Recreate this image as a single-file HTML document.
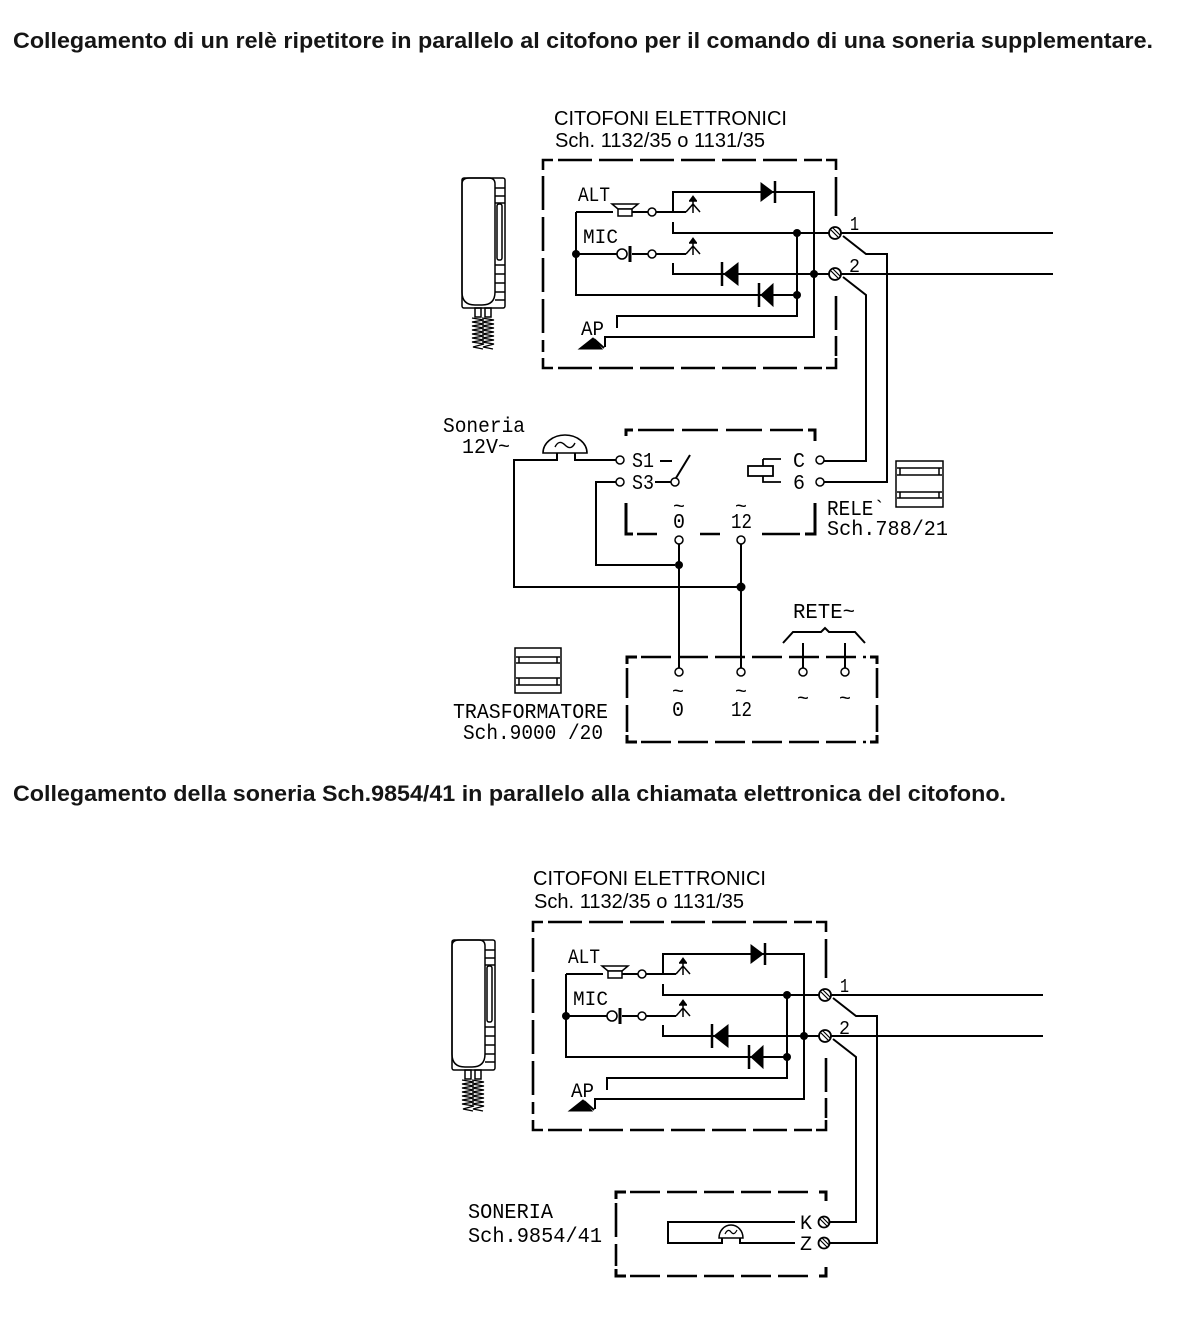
<!DOCTYPE html>
<html><head><meta charset="utf-8">
<style>
html,body{margin:0;padding:0;background:#fff;}
svg{display:block;}
.t{font-family:"Liberation Sans",Arial,sans-serif;}
.m{font-family:"Liberation Mono","DejaVu Sans Mono",monospace;}
</style></head><body>
<svg width="1186" height="1320" viewBox="0 0 1186 1320" xmlns="http://www.w3.org/2000/svg">
<rect width="1186" height="1320" fill="#fff"/>

<text class="t" x="13" y="48" font-size="22" font-weight="bold" fill="#151515" textLength="1140" lengthAdjust="spacingAndGlyphs">Collegamento di un relè ripetitore in parallelo al citofono per il comando di una soneria supplementare.</text>
<text class="t" x="13" y="801" font-size="22" font-weight="bold" fill="#151515" textLength="993" lengthAdjust="spacingAndGlyphs">Collegamento della soneria Sch.9854/41 in parallelo alla chiamata elettronica del citofono.</text>

<!-- ============ CITOFONO 1 ============ -->
<text class="t" x="554" y="125" font-size="20.5" fill="#000" textLength="233" lengthAdjust="spacingAndGlyphs">CITOFONI ELETTRONICI</text>
<text class="t" x="555" y="147" font-size="20.5" fill="#000" textLength="210" lengthAdjust="spacingAndGlyphs">Sch. 1132/35 o 1131/35</text>

<g id="cit1">
<g fill="none" stroke="#000">
  <g stroke-width="2.6">
    <path d="M543,170 V160 H553"/>
    <path d="M826,160 H836 V170"/>
    <path d="M543,358 V368 H553"/>
    <path d="M826,368 H836 V358"/>
    <path d="M558,160 H822" stroke-dasharray="34 7"/>
    <path d="M558,368 H822" stroke-dasharray="34 7"/>
    <path d="M543,176 V352" stroke-dasharray="34 7"/>
    <path d="M836,177 V216"/>
    <path d="M836,296 V330"/>
    <path d="M836,336 V356"/>
  </g>
  <g stroke-width="1.5">
    <rect x="462" y="178" width="43" height="130" rx="2"/>
    <path d="M469,178 H489 Q495,178 495,184 V292 Q495,305 482,305 H475 Q462,305 462,292 V184 Q462,178 469,178 Z"/>
    <path d="M495,188 H505 M495,196 H505 M495,203 H505 M495,265 H505 M495,274 H505 M495,283 H505 M495,292 H505 M495,300 H505"/>
    <rect x="497" y="204" width="5" height="56" rx="2"/>
    <rect x="475" y="308" width="6" height="9"/>
    <rect x="485" y="308" width="6" height="9"/>
  </g>
  <g stroke-width="1.3">
    <polyline points="472,318 484,320 472,322 484,324 472,326 484,328 472,330 484,332 472,334 484,336 472,338 484,340 472,342 484,344 473,347 483,349"/>
    <polyline points="482,318 494,320 482,322 494,324 482,326 494,328 482,330 494,332 482,334 494,336 482,338 494,340 482,342 494,344 483,347 493,349"/>
  </g>
  <g stroke-width="2">
    <path d="M576,212 H613"/>
    <path d="M632,212 H648"/>
    <path d="M656,212 H686"/>
    <path d="M673,212 V192 H814 V337 H605 V347"/>
    <path d="M673,222 V233 H829"/>
    <path d="M576,254 H617"/>
    <path d="M632,254 H648"/>
    <path d="M656,254 H686"/>
    <path d="M576,212 V295 H797"/>
    <path d="M673,263 V274 H829"/>
    <path d="M797,233 V316 H617 V328"/>
    <path d="M594,339 L604,348"/>
  </g>
  <path d="M612,204 H638 L632,209 H618 Z" stroke-width="1.5" fill="#fff"/>
  <rect x="618" y="209" width="14" height="7" stroke-width="1.5" fill="#fff"/>
  <circle cx="652" cy="212" r="4" stroke-width="1.5" fill="#fff"/>
  <circle cx="622" cy="254" r="5" stroke-width="1.6" fill="#fff"/>
  <path d="M630,246 V262" stroke-width="3"/>
  <circle cx="652" cy="254" r="4" stroke-width="1.5" fill="#fff"/>
  <g stroke-width="1.5">
    <path d="M686,212 L693,204 L700,212 M693,213 V199 M689,201 H697"/>
    <path d="M686,254 L693,246 L700,254 M693,255 V241 M689,243 H697"/>
  </g>
  <path d="M690,200 L693,196 L696,200 Z" fill="#000" stroke-width="1"/>
  <path d="M690,242 L693,238 L696,242 Z" fill="#000" stroke-width="1"/>
  <path d="M761,183 V201 L773,192 Z" fill="#000" stroke-width="1"/>
  <path d="M775,181 V203" stroke-width="2.5"/>
  <path d="M724,274 L738,263 V285 Z" fill="#000" stroke-width="1"/>
  <path d="M722,262 V286" stroke-width="2.5"/>
  <path d="M761,295 L773,284 V306 Z" fill="#000" stroke-width="1"/>
  <path d="M759,283 V307" stroke-width="2.5"/>
  <path d="M579,349 L593,338 L602,349 Z" fill="#000" stroke-width="1"/>
  <circle cx="835" cy="233" r="6" fill="#fff" stroke-width="1.8"/>
  <path d="M831,230 L838,237 M833,228 L840,235" stroke-width="1.2"/>
  <circle cx="835" cy="274" r="6" fill="#fff" stroke-width="1.8"/>
  <path d="M831,271 L838,278 M833,269 L840,276" stroke-width="1.2"/>
  <path d="M841,233 H1053 M841,274 H1053" stroke-width="2"/>
</g>
<g fill="#000">
  <circle cx="576" cy="254" r="4"/>
  <circle cx="797" cy="233" r="4"/>
  <circle cx="797" cy="295" r="4"/>
  <circle cx="814" cy="274" r="4"/>
</g>
<g class="m" fill="#000">
  <text x="578" y="201" font-size="20" textLength="32" lengthAdjust="spacingAndGlyphs">ALT</text>
  <text x="583" y="243" font-size="20" textLength="35" lengthAdjust="spacingAndGlyphs">MIC</text>
  <text x="581" y="335" font-size="20" textLength="23" lengthAdjust="spacingAndGlyphs">AP</text>
  <text x="850" y="230" font-size="19" textLength="9" lengthAdjust="spacingAndGlyphs">1</text>
  <text x="849" y="272" font-size="19" textLength="11" lengthAdjust="spacingAndGlyphs">2</text>
</g>
</g>

<g fill="none" stroke="#000" stroke-width="2">
  <path d="M843,236 L866,254 H887 V482 H824"/>
  <path d="M843,277 L866,295 V461 H824"/>
</g>

<!-- ============ RELAY ============ -->
<g fill="none" stroke="#000">
  <g stroke-width="3">
    <path d="M626,436 V430 H633"/>
    <path d="M808,430 H815 V441"/>
    <path d="M626,503 V534 H633"/>
    <path d="M815,503 V534 H805"/>
  </g>
  <g stroke-width="2.6">
    <path d="M638,430 H803" stroke-dasharray="36 8"/>
    <path d="M637,534 H657"/>
    <path d="M700,534 H720"/>
    <path d="M762,534 H800"/>
  </g>
  <g stroke-width="2">
    <path d="M616,460 H575 V453"/>
    <path d="M557,453 V460 H514 V587 H737"/>
    <path d="M616,482 H596 V565 H675"/>
    <path d="M679,544 V668"/>
    <path d="M741,544 V668"/>
    <path d="M660,461 H672"/>
    <path d="M676,478 L690,455"/>
    <path d="M655,482 H671"/>
  </g>
  <path d="M543,453 A22,18 0 0 1 587,453 Z" stroke-width="1.6" fill="#fff"/>
  <path d="M555,447 Q559,439 565,445 Q571,451 575,443" stroke-width="1.4"/>
  <g stroke-width="1.5" fill="#fff">
    <circle cx="620" cy="460" r="4"/>
    <circle cx="620" cy="482" r="4"/>
    <circle cx="675" cy="482" r="4"/>
    <circle cx="820" cy="460" r="4"/>
    <circle cx="820" cy="482" r="4"/>
    <circle cx="679" cy="540" r="4"/>
    <circle cx="741" cy="540" r="4"/>
  </g>
  <g stroke-width="1.8">
    <rect x="748" y="466" width="25" height="10" fill="#fff"/>
    <path d="M763,459 H781 M763,459 V466 M763,476 V482 H781"/>
  </g>
  <g stroke-width="1.5">
    <rect x="896" y="461" width="47" height="46"/>
    <path d="M897,468 H942 M897,475 H942 M897,492 H942 M897,498 H942 M900,468 V475 M939,468 V475 M900,492 V498 M939,492 V498"/>
  </g>
</g>
<g fill="#000">
  <circle cx="679" cy="565" r="4"/>
  <circle cx="741" cy="587" r="4.5"/>
</g>
<g class="m" fill="#000">
  <text x="443" y="432" font-size="21" textLength="82" lengthAdjust="spacingAndGlyphs">Soneria</text>
  <text x="462" y="453" font-size="21" textLength="48" lengthAdjust="spacingAndGlyphs">12V~</text>
  <text x="632" y="467" font-size="21" textLength="22" lengthAdjust="spacingAndGlyphs">S1</text>
  <text x="632" y="489" font-size="21" textLength="22" lengthAdjust="spacingAndGlyphs">S3</text>
  <text x="793" y="467" font-size="21" textLength="12" lengthAdjust="spacingAndGlyphs">C</text>
  <text x="793" y="489" font-size="21" textLength="12" lengthAdjust="spacingAndGlyphs">6</text>
  <text x="673" y="513" font-size="21" textLength="12" lengthAdjust="spacingAndGlyphs">~</text>
  <text x="673" y="528" font-size="21" textLength="12" lengthAdjust="spacingAndGlyphs">0</text>
  <text x="735" y="513" font-size="21" textLength="12" lengthAdjust="spacingAndGlyphs">~</text>
  <text x="731" y="528" font-size="21" textLength="21" lengthAdjust="spacingAndGlyphs">12</text>
  <text x="827" y="515" font-size="21" textLength="58" lengthAdjust="spacingAndGlyphs">RELE`</text>
  <text x="827" y="535" font-size="21" textLength="121" lengthAdjust="spacingAndGlyphs">Sch.788/21</text>
</g>

<!-- ============ TRANSFORMER ============ -->
<g fill="none" stroke="#000">
  <g stroke-width="3">
    <path d="M627,664 V657 H637"/>
    <path d="M627,735 V742 H637"/>
    <path d="M870,657 H877 V664"/>
    <path d="M870,742 H877 V735"/>
  </g>
  <g stroke-width="2.6" stroke-dasharray="30 7">
    <path d="M641,657 H866"/>
    <path d="M641,742 H866"/>
    <path d="M627,668 V732"/>
    <path d="M877,668 V732"/>
  </g>
  <g stroke-width="2">
    <path d="M803,643 V668 M845,643 V668"/>
    <path d="M783,643 L793,632 H821 L825,628 L829,632 H855 L865,643"/>
  </g>
  <g stroke-width="1.5" fill="#fff">
    <circle cx="679" cy="672" r="4"/>
    <circle cx="741" cy="672" r="4"/>
    <circle cx="803" cy="672" r="4"/>
    <circle cx="845" cy="672" r="4"/>
  </g>
  <g stroke-width="1.5">
    <rect x="515" y="648" width="46" height="45"/>
    <path d="M516,657 H560 M516,663 H560 M516,678 H560 M516,685 H560 M519,657 V663 M557,657 V663 M519,678 V685 M557,678 V685"/>
  </g>
</g>
<g class="m" fill="#000">
  <text x="793" y="618" font-size="21" textLength="62" lengthAdjust="spacingAndGlyphs">RETE~</text>
  <text x="672" y="698" font-size="21" textLength="12" lengthAdjust="spacingAndGlyphs">~</text>
  <text x="672" y="716" font-size="21" textLength="12" lengthAdjust="spacingAndGlyphs">0</text>
  <text x="735" y="698" font-size="21" textLength="12" lengthAdjust="spacingAndGlyphs">~</text>
  <text x="731" y="716" font-size="21" textLength="21" lengthAdjust="spacingAndGlyphs">12</text>
  <text x="797" y="705" font-size="21" textLength="12" lengthAdjust="spacingAndGlyphs">~</text>
  <text x="839" y="705" font-size="21" textLength="12" lengthAdjust="spacingAndGlyphs">~</text>
  <text x="453" y="718" font-size="21" textLength="155" lengthAdjust="spacingAndGlyphs">TRASFORMATORE</text>
  <text x="463" y="739" font-size="21" textLength="140" lengthAdjust="spacingAndGlyphs">Sch.9000 /20</text>
</g>

<!-- ============ CITOFONO 2 ============ -->
<text class="t" x="533" y="885" font-size="20.5" fill="#000" textLength="233" lengthAdjust="spacingAndGlyphs">CITOFONI ELETTRONICI</text>
<text class="t" x="534" y="908" font-size="20.5" fill="#000" textLength="210" lengthAdjust="spacingAndGlyphs">Sch. 1132/35 o 1131/35</text>

<g transform="translate(-10,762)">
<g fill="none" stroke="#000">
  <g stroke-width="2.6">
    <path d="M543,170 V160 H553"/>
    <path d="M826,160 H836 V170"/>
    <path d="M543,358 V368 H553"/>
    <path d="M826,368 H836 V358"/>
    <path d="M558,160 H822" stroke-dasharray="34 7"/>
    <path d="M558,368 H822" stroke-dasharray="34 7"/>
    <path d="M543,176 V352" stroke-dasharray="34 7"/>
    <path d="M836,177 V216"/>
    <path d="M836,296 V330"/>
    <path d="M836,336 V356"/>
  </g>
  <g stroke-width="1.5">
    <rect x="462" y="178" width="43" height="130" rx="2"/>
    <path d="M469,178 H489 Q495,178 495,184 V292 Q495,305 482,305 H475 Q462,305 462,292 V184 Q462,178 469,178 Z"/>
    <path d="M495,188 H505 M495,196 H505 M495,203 H505 M495,265 H505 M495,274 H505 M495,283 H505 M495,292 H505 M495,300 H505"/>
    <rect x="497" y="204" width="5" height="56" rx="2"/>
    <rect x="475" y="308" width="6" height="9"/>
    <rect x="485" y="308" width="6" height="9"/>
  </g>
  <g stroke-width="1.3">
    <polyline points="472,318 484,320 472,322 484,324 472,326 484,328 472,330 484,332 472,334 484,336 472,338 484,340 472,342 484,344 473,347 483,349"/>
    <polyline points="482,318 494,320 482,322 494,324 482,326 494,328 482,330 494,332 482,334 494,336 482,338 494,340 482,342 494,344 483,347 493,349"/>
  </g>
  <g stroke-width="2">
    <path d="M576,212 H613"/>
    <path d="M632,212 H648"/>
    <path d="M656,212 H686"/>
    <path d="M673,212 V192 H814 V337 H605 V347"/>
    <path d="M673,222 V233 H829"/>
    <path d="M576,254 H617"/>
    <path d="M632,254 H648"/>
    <path d="M656,254 H686"/>
    <path d="M576,212 V295 H797"/>
    <path d="M673,263 V274 H829"/>
    <path d="M797,233 V316 H617 V328"/>
    <path d="M594,339 L604,348"/>
  </g>
  <path d="M612,204 H638 L632,209 H618 Z" stroke-width="1.5" fill="#fff"/>
  <rect x="618" y="209" width="14" height="7" stroke-width="1.5" fill="#fff"/>
  <circle cx="652" cy="212" r="4" stroke-width="1.5" fill="#fff"/>
  <circle cx="622" cy="254" r="5" stroke-width="1.6" fill="#fff"/>
  <path d="M630,246 V262" stroke-width="3"/>
  <circle cx="652" cy="254" r="4" stroke-width="1.5" fill="#fff"/>
  <g stroke-width="1.5">
    <path d="M686,212 L693,204 L700,212 M693,213 V199 M689,201 H697"/>
    <path d="M686,254 L693,246 L700,254 M693,255 V241 M689,243 H697"/>
  </g>
  <path d="M690,200 L693,196 L696,200 Z" fill="#000" stroke-width="1"/>
  <path d="M690,242 L693,238 L696,242 Z" fill="#000" stroke-width="1"/>
  <path d="M761,183 V201 L773,192 Z" fill="#000" stroke-width="1"/>
  <path d="M775,181 V203" stroke-width="2.5"/>
  <path d="M724,274 L738,263 V285 Z" fill="#000" stroke-width="1"/>
  <path d="M722,262 V286" stroke-width="2.5"/>
  <path d="M761,295 L773,284 V306 Z" fill="#000" stroke-width="1"/>
  <path d="M759,283 V307" stroke-width="2.5"/>
  <path d="M579,349 L593,338 L602,349 Z" fill="#000" stroke-width="1"/>
  <circle cx="835" cy="233" r="6" fill="#fff" stroke-width="1.8"/>
  <path d="M831,230 L838,237 M833,228 L840,235" stroke-width="1.2"/>
  <circle cx="835" cy="274" r="6" fill="#fff" stroke-width="1.8"/>
  <path d="M831,271 L838,278 M833,269 L840,276" stroke-width="1.2"/>
  <path d="M841,233 H1053 M841,274 H1053" stroke-width="2"/>
</g>
<g fill="#000">
  <circle cx="576" cy="254" r="4"/>
  <circle cx="797" cy="233" r="4"/>
  <circle cx="797" cy="295" r="4"/>
  <circle cx="814" cy="274" r="4"/>
</g>
<g class="m" fill="#000">
  <text x="578" y="201" font-size="20" textLength="32" lengthAdjust="spacingAndGlyphs">ALT</text>
  <text x="583" y="243" font-size="20" textLength="35" lengthAdjust="spacingAndGlyphs">MIC</text>
  <text x="581" y="335" font-size="20" textLength="23" lengthAdjust="spacingAndGlyphs">AP</text>
  <text x="850" y="230" font-size="19" textLength="9" lengthAdjust="spacingAndGlyphs">1</text>
  <text x="849" y="272" font-size="19" textLength="11" lengthAdjust="spacingAndGlyphs">2</text>
</g>
</g>

<g fill="none" stroke="#000" stroke-width="2">
  <path d="M833,998 L856,1016 H877 V1243 H830"/>
  <path d="M833,1039 L856,1057 V1222 H830"/>
</g>

<!-- ============ SONERIA 9854/41 ============ -->
<g fill="none" stroke="#000">
  <g stroke-width="3">
    <path d="M616,1199 V1192 H626"/>
    <path d="M616,1269 V1276 H626"/>
    <path d="M819,1192 H826 V1201"/>
    <path d="M819,1276 H826 V1267"/>
  </g>
  <g stroke-width="2.6">
    <path d="M630,1192 H815" stroke-dasharray="30 7"/>
    <path d="M630,1276 H815" stroke-dasharray="30 7"/>
    <path d="M616,1203 V1237"/>
    <path d="M616,1244 V1266"/>
  </g>
  <g stroke-width="2">
    <path d="M795,1222 H668 V1243 H722 V1238"/>
    <path d="M740,1238 V1243 H795"/>
  </g>
  <path d="M719,1238 A12,13 0 0 1 743,1238 Z" stroke-width="1.5" fill="#fff"/>
  <path d="M725,1234 Q728,1228 731,1232 Q734,1236 737,1230" stroke-width="1.2"/>
  <circle cx="824" cy="1222" r="5.5" fill="#fff" stroke-width="1.8"/>
  <path d="M820,1219 L827,1226 M822,1217 L829,1224" stroke-width="1.2"/>
  <circle cx="824" cy="1243" r="5.5" fill="#fff" stroke-width="1.8"/>
  <path d="M820,1240 L827,1247 M822,1238 L829,1245" stroke-width="1.2"/>
</g>
<g class="m" fill="#000">
  <text x="800" y="1229" font-size="20" textLength="12" lengthAdjust="spacingAndGlyphs">K</text>
  <text x="800" y="1250" font-size="20" textLength="12" lengthAdjust="spacingAndGlyphs">Z</text>
  <text x="468" y="1218" font-size="21" textLength="85" lengthAdjust="spacingAndGlyphs">SONERIA</text>
  <text x="468" y="1242" font-size="21" textLength="134" lengthAdjust="spacingAndGlyphs">Sch.9854/41</text>
</g>

</svg>
</body></html>
